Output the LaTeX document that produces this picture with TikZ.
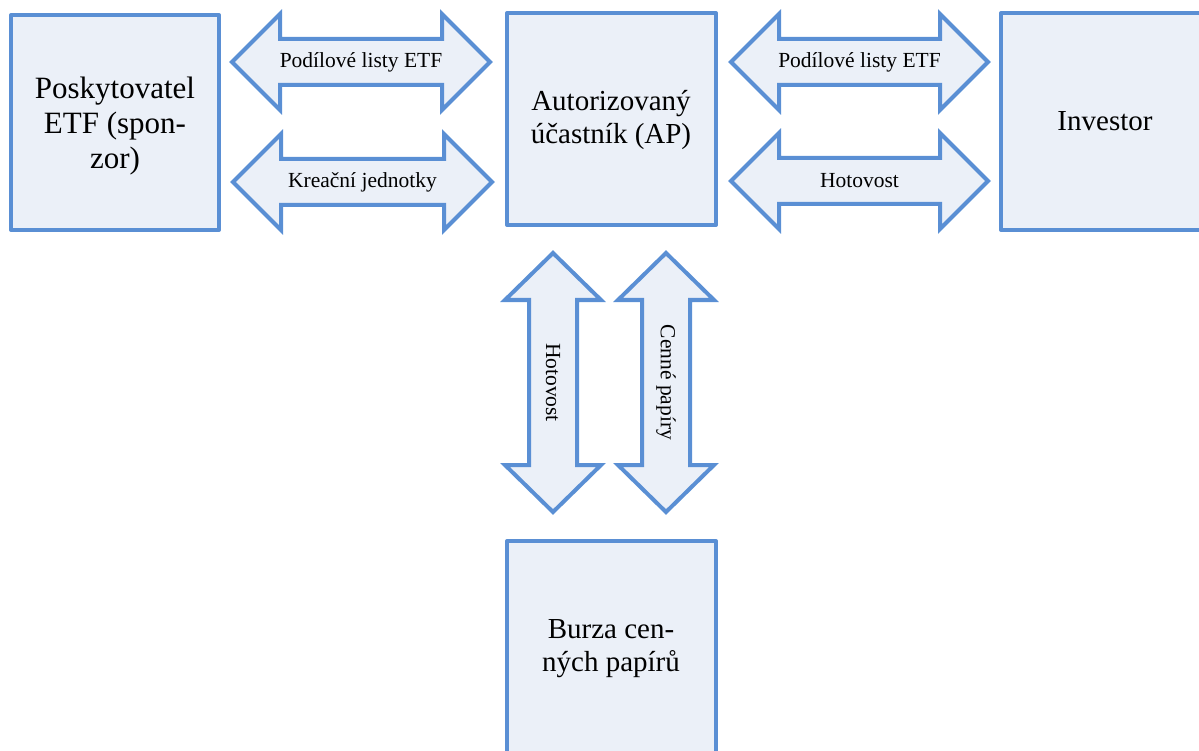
\documentclass[tikz,border=0pt]{standalone}
\usepackage{fontspec}
\setmainfont{Liberation Serif}
\definecolor{bordblue}{HTML}{5A8FD4}
\definecolor{fillblue}{HTML}{EBF0F8}
\tikzset{
  boxstyle/.style={draw=bordblue, fill=fillblue, line width=4pt, line join=round},
  arrowstyle/.style={draw=bordblue, fill=fillblue, line width=4pt, line join=miter},
  boxtext/.style={font=\fontsize{29}{33}\selectfont, align=center, text=black},
  arrtext/.style={font=\fontsize{21.5}{25}\selectfont, text=black, inner sep=0pt}
}
% horizontal double block arrow: #1 left tip x, #2 right tip x, #3 centre y, #4 name, #5 label
\newcommand{\hblockarrow}[5]{%
  \draw[arrowstyle] (#1,#3) -- (#1+48,#3-48) -- (#1+48,#3-23) -- (#2-48,#3-23) -- (#2-48,#3-48)
    -- (#2,#3) -- (#2-48,#3+48) -- (#2-48,#3+23) -- (#1+48,#3+23) -- (#1+48,#3+48) -- cycle;
  \node[arrtext] (#4) at ({(#1+#2)/2},#3) {#5};}
% vertical double block arrow: #1 centre x, #2 top tip y, #3 bottom tip y, #4 name, #5 label
\newcommand{\vblockarrow}[5]{%
  \draw[arrowstyle] (#1,#2) -- (#1+48,#2+47) -- (#1+24,#2+47) -- (#1+24,#3-47) -- (#1+48,#3-47)
    -- (#1,#3) -- (#1-48,#3-47) -- (#1-24,#3-47) -- (#1-24,#2+47) -- (#1-48,#2+47) -- cycle;
  \node[arrtext, rotate=-90] (#4) at (#1,{(#2+#3)/2}) {#5};}
\begin{document}
\begin{tikzpicture}[x=1pt,y=-1pt]
\useasboundingbox (0,0) rectangle (1199,751);
\clip (0,0) rectangle (1199,751);
% boxes
\draw[boxstyle] (11,15) rectangle (219,230);
\node[boxtext, font=\fontsize{31}{35}\selectfont] (sponzor) at (115,126) {Poskytovatel\\ETF (spon-\\zor)};
\draw[boxstyle] (507,13) rectangle (716,225);
\node[boxtext] (ap) at (611,120) {Autorizovaný\\účastník (AP)};
\draw[boxstyle] (1001,13) rectangle (1215,230);
\node[boxtext] (investor) at (1105,121) {Investor};
\draw[boxstyle] (507,541) rectangle (716,760);
\node[boxtext] (burza) at (611,649) {Burza cen-\\ných papírů};
% arrows
\hblockarrow{232}{490}{62}{a1}{Podílové listy ETF}
\hblockarrow{233}{492}{182}{a2}{Kreační jednotky}
\hblockarrow{731}{988}{62}{a3}{Podílové listy ETF}
\hblockarrow{731}{988}{181}{a4}{Hotovost}
\vblockarrow{553}{253}{512}{a5}{Hotovost}
\vblockarrow{666}{253}{512}{a6}{Cenné papíry}
\end{tikzpicture}
\end{document}
